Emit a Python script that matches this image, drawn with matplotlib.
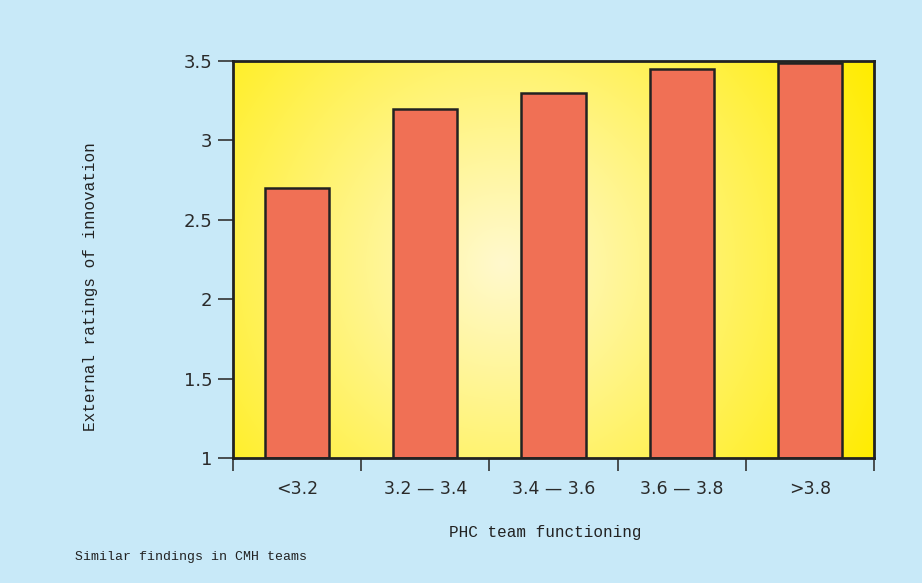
import matplotlib.pyplot as plt
import numpy as np

# Datos
categorias = ['<3.2', '3.2 — 3.4', '3.4 — 3.6', '3.6 — 3.8', '>3.8']
valores = [2.7, 3.2, 3.3, 3.45, 3.49]
yticks = [1, 1.5, 2, 2.5, 3, 3.5]
ytick_labels = ['1', '1.5', '2', '2.5', '3', '3.5']

fondo = '#c8e9f8'
color_barra = '#f07055'
fuente_texto = 'Liberation Mono'

fig = plt.figure(figsize=(9.22, 5.83), dpi=100, facecolor=fondo)
ax = fig.add_axes([233 / 922, 1 - 458 / 583, (874 - 233) / 922, (458 - 61) / 583])

# Fondo con degradado radial (claro en el centro, amarillo en los bordes)
ancho, alto = 641, 397
xs = np.linspace(0, ancho, 500)
ys = np.linspace(0, alto, 320)
X, Y = np.meshgrid(xs, ys)
d = np.sqrt((X - 0.42 * ancho) ** 2 + (Y - 0.49 * alto) ** 2) / 420
d = np.clip(d, 0, 1)
c_centro = np.array([255, 249, 205]) / 255
c_borde = np.array([255, 236, 0]) / 255
img = c_centro + (c_borde - c_centro) * d[..., None] ** 1.05
ax.imshow(img, extent=[-0.5, 4.5, 1, 3.5], origin='lower', aspect='auto', zorder=0)

# Barras
pos = np.arange(len(categorias))
ax.bar(pos, np.array(valores) - 1, bottom=1, width=0.5, color=color_barra,
       edgecolor='#222222', linewidth=1.8, zorder=2)

ax.set_xlim(-0.5, 4.5)
ax.set_ylim(1, 3.5)

# Ejes y marcas
for s in ax.spines.values():
    s.set_linewidth(2)
    s.set_color('#222222')
    s.set_zorder(3)

ax.set_yticks(yticks)
ax.set_yticklabels(ytick_labels, fontsize=13, family='DejaVu Sans', color='#2a2a2a')
ax.tick_params(axis='y', length=11, width=1.2, color='#333333', pad=4)

ax.set_xticks(np.arange(-0.5, 5, 1))
ax.set_xticklabels([])
ax.tick_params(axis='x', which='major', length=9.5, width=1.2, color='#333333')
ax.set_xticks(pos, minor=True)
ax.set_xticklabels(categorias, minor=True, fontsize=12.5, family='DejaVu Sans', color='#2a2a2a')
ax.tick_params(axis='x', which='minor', length=0, pad=16)

# Títulos y etiquetas
fig.text(90 / 922, 1 - 287 / 583, 'External ratings of innovation', rotation=90,
         ha='center', va='center', fontsize=11.5, family=fuente_texto, color='#222222')
fig.text(545 / 922, 1 - 533 / 583, 'PHC team functioning',
         ha='center', va='center', fontsize=11.5, family=fuente_texto, color='#222222')
fig.text(75 / 922, 1 - 557 / 583, 'Similar findings in CMH teams',
         ha='left', va='center', fontsize=9.5, family=fuente_texto, color='#222222')

plt.savefig('out.png', dpi=100, facecolor=fondo)
